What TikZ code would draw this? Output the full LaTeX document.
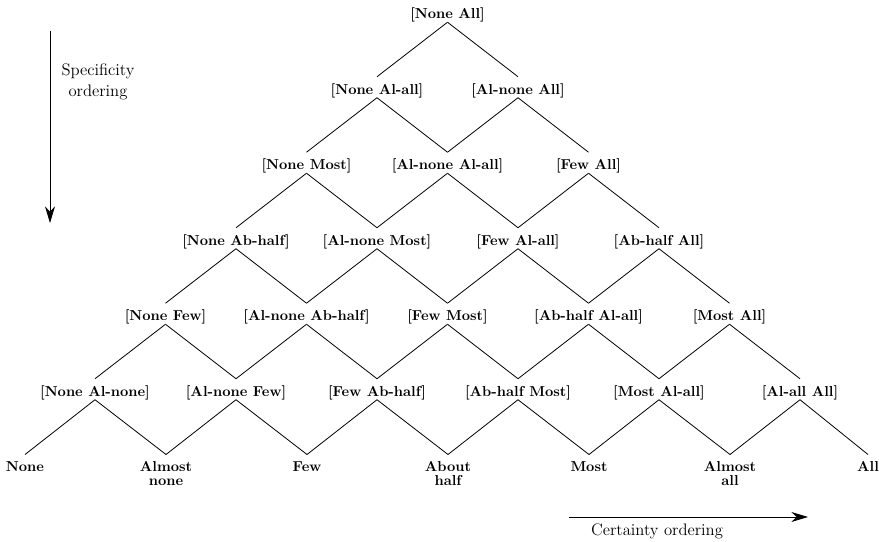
\documentclass[tikz,border=0pt]{standalone}
\usetikzlibrary{arrows.meta}
\begin{document}
\begin{tikzpicture}[x=0.75pt,y=-0.75pt,
  edge/.style={line width=0.6pt},
  ordarrow/.style={line width=0.6pt,-{Stealth[length=12.5pt,width=7.5pt]}},
  lab/.style={font=\fontsize{10.8}{10}\selectfont\bfseries,inner sep=0pt,
    text height=12.75pt,text depth=2.6pt,anchor=base},
  leaf/.style={font=\fontsize{10.8}{10}\selectfont\bfseries,inner sep=0pt,
    align=center,anchor=north},
  axislabel/.style={font=\fontsize{12.5}{16}\selectfont,inner sep=0pt,align=center}]
\useasboundingbox (0,0) rectangle (879,542);

% lattice of interval pairs: row k, position j sits at
% x = 447.5 - 70.5k + 141j, baseline y = 18.5 + 75.5k
\foreach \k/\row in {
  0/{[None All]},
  1/{[None Al-all],[Al-none All]},
  2/{[None Most],[Al-none Al-all],[Few All]},
  3/{[None Ab-half],[Al-none Most],[Few Al-all],[Ab-half All]},
  4/{[None Few],[Al-none Ab-half],[Few Most],[Ab-half Al-all],[Most All]},
  5/{[None Al-none],[Al-none Few],[Few Ab-half],[Ab-half Most],[Most Al-all],[Al-all All]}}{
  \foreach \txt [count=\jj from 0] in \row {
    \node[lab] (n-\k-\jj) at ({447.5-70.5*\k+141*\jj},{18.5+75.5*\k}) {\txt};
  }
}

% bottom row: the single quantifiers
\foreach \txt/\x [count=\jj from 0] in
  {None/25,Almost\\none/166,Few/307,About\\half/448,Most/589,Almost\\all/730,All/868}{
  \node[leaf] (n-6-\jj) at (\x,454.5) {\rule{0pt}{12.75pt}\txt};
}

% each pair is refined by its two neighbours below
\foreach \k in {0,...,5}{
  \pgfmathtruncatemacro{\kn}{\k+1}
  \foreach \jj in {0,...,\k}{
    \pgfmathtruncatemacro{\jn}{\jj+1}
    \draw[edge] (n-\k-\jj.south) -- (n-\kn-\jj.north);
    \draw[edge] (n-\k-\jj.south) -- (n-\kn-\jn.north);
  }
}

% orderings
\coordinate (spec-top) at (50,31);
\coordinate (spec-bot) at (50,223);
\draw[ordarrow] (spec-top) -- (spec-bot);
\node[axislabel] (spec) at (98,82) {Specificity\\ordering};

\coordinate (cert-left) at (569,517);
\coordinate (cert-right) at (808,517);
\draw[ordarrow] (cert-left) -- (cert-right);
\node[axislabel] (cert) at (657,531.5) {Certainty ordering};
\end{tikzpicture}
\end{document}
